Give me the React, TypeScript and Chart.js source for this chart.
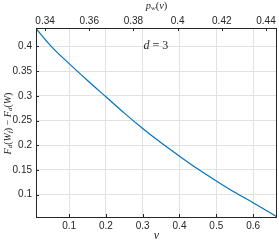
import React, { useEffect, useRef } from "react";
import { Chart, registerables } from "chart.js";

Chart.register(...registerables);

const vValues = [0.01, 0.05, 0.1, 0.15, 0.2, 0.25, 0.3, 0.35, 0.4, 0.45, 0.5, 0.55, 0.6, 0.65, 0.665];
const gapValues = [0.436, 0.401, 0.365, 0.331, 0.298, 0.265, 0.234, 0.205, 0.178, 0.152, 0.128, 0.105, 0.084, 0.062, 0.055];
const xTicks = [0.1, 0.2, 0.3, 0.4, 0.5, 0.6];
const yTicks = [0.1, 0.15, 0.2, 0.25, 0.3, 0.35, 0.4];
const topTicks = [0.34, 0.36, 0.38, 0.4, 0.42, 0.44];
const annotationText = { v: 0.336, y: 0.4 };

const AXIS = "#262626";
const GRID = "#e2e2e2";
const SERIF = '"Liberation Serif", "Times New Roman", serif';

type Run = { t: string; italic?: boolean; sub?: boolean };

function drawRuns(ctx: CanvasRenderingContext2D, runs: Run[], cx: number, cy: number, size: number) {
  const fontFor = (r: Run) => `${r.italic ? "italic " : ""}${r.sub ? Math.round(size * 0.7) : size}px ${SERIF}`;
  let total = 0;
  const widths = runs.map((r) => {
    ctx.font = fontFor(r);
    const w = ctx.measureText(r.t).width;
    total += w;
    return w;
  });
  let x = cx - total / 2;
  ctx.textBaseline = "middle";
  ctx.textAlign = "left";
  runs.forEach((r, i) => {
    ctx.font = fontFor(r);
    ctx.fillText(r.t, x, cy + (r.sub ? size * 0.25 : 0));
    x += widths[i];
  });
}

const fmt = (v: number) => String(parseFloat(Number(v).toFixed(3)));

export default function App() {
  const ref = useRef<HTMLCanvasElement | null>(null);
  useEffect(() => {
    if (!ref.current) return;
    const decor = {
      id: "decor",
      afterDraw(chart: any) {
        const ctx = chart.ctx as CanvasRenderingContext2D;
        const a = chart.chartArea;
        const xs = chart.scales.x;
        const ys = chart.scales.y;
        const x2 = chart.scales.x2;
        ctx.save();
        ctx.strokeStyle = AXIS;
        ctx.lineWidth = 1;
        ctx.beginPath();
        const tl = 3;
        xTicks.forEach((t) => {
          const p = Math.round(xs.getPixelForValue(t)) + 0.5;
          ctx.moveTo(p, a.bottom);
          ctx.lineTo(p, a.bottom - tl);
        });
        topTicks.forEach((t) => {
          const p = Math.round(x2.getPixelForValue(t)) + 0.5;
          ctx.moveTo(p, a.top);
          ctx.lineTo(p, a.top + tl);
        });
        yTicks.forEach((t) => {
          const p = Math.round(ys.getPixelForValue(t)) + 0.5;
          ctx.moveTo(a.left, p);
          ctx.lineTo(a.left + tl, p);
        });
        ctx.stroke();
        ctx.strokeRect(Math.round(a.left) + 0.5, Math.round(a.top) + 0.5, Math.round(a.right - a.left) - 1, Math.round(a.bottom - a.top));
        ctx.fillStyle = AXIS;
        // y title
        ctx.save();
        ctx.translate(8, (a.top + a.bottom) / 2 + 1);
        ctx.rotate(-Math.PI / 2);
        drawRuns(
          ctx,
          [
            { t: "F", italic: true },
            { t: "d", italic: true, sub: true },
            { t: "(" },
            { t: "W", italic: true },
            { t: "f", italic: true, sub: true },
            { t: ")" },
            { t: " \u2212 " },
            { t: "F", italic: true },
            { t: "d", italic: true, sub: true },
            { t: "(" },
            { t: "W", italic: true },
            { t: ")" },
          ],
          0,
          0,
          10
        );
        ctx.restore();
        // top title
        drawRuns(
          ctx,
          [
            { t: "p", italic: true },
            { t: "w", italic: true, sub: true },
            { t: "(" },
            { t: "v", italic: true },
            { t: ")" },
          ],
          (a.left + a.right) / 2,
          6,
          10.5
        );
        // bottom title
        drawRuns(ctx, [{ t: "v", italic: true }], (a.left + a.right) / 2, 236, 12);
        // annotation
        drawRuns(
          ctx,
          [{ t: "d", italic: true }, { t: " = 3" }],
          xs.getPixelForValue(annotationText.v),
          ys.getPixelForValue(annotationText.y),
          12
        );
        ctx.restore();
      },
    };
    const tickFont = { family: '"Liberation Sans", Arial, sans-serif', size: 10 };
    const chart = new Chart(ref.current, {
      type: "scatter",
      data: {
        datasets: [
          {
            data: vValues.map((v, i) => ({ x: v, y: gapValues[i] })),
            showLine: true,
            borderColor: "#0072BD",
            borderWidth: 1.2,
            pointRadius: 0,
            cubicInterpolationMode: "monotone",
            xAxisID: "x",
            yAxisID: "y",
          },
        ],
      },
      options: {
        animation: false,
        responsive: false,
        devicePixelRatio: 1,
        layout: { padding: { left: 0, right: 2, top: 0, bottom: 0 } },
        plugins: { legend: { display: false }, tooltip: { enabled: false } },
        scales: {
          x: {
            type: "linear",
            position: "bottom",
            min: 0.01,
            max: 0.665,
            afterBuildTicks: (s: any) => {
              s.ticks = xTicks.map((v) => ({ value: v }));
            },
            afterFit: (s: any) => {
              s.height = 26;
            },
            ticks: { callback: (v: any) => fmt(v), color: AXIS, font: tickFont, padding: 3, maxRotation: 0, autoSkip: false },
            grid: { color: GRID, drawTicks: false },
            border: { display: false },
          },
          x2: {
            type: "linear",
            position: "top",
            min: 0.3359,
            max: 0.445,
            afterBuildTicks: (s: any) => {
              s.ticks = topTicks.map((v) => ({ value: v }));
            },
            afterFit: (s: any) => {
              s.height = 28;
            },
            ticks: { callback: (v: any) => fmt(v), color: AXIS, font: tickFont, padding: 1, maxRotation: 0, autoSkip: false },
            grid: { drawOnChartArea: false, drawTicks: false },
            border: { display: false },
          },
          y: {
            type: "linear",
            position: "left",
            min: 0.055,
            max: 0.437,
            afterBuildTicks: (s: any) => {
              s.ticks = yTicks.map((v) => ({ value: v }));
            },
            afterFit: (s: any) => {
              s.width = 36;
            },
            ticks: { callback: (v: any) => fmt(v), color: AXIS, font: tickFont, padding: 4, autoSkip: false },
            grid: { color: GRID, drawTicks: false },
            border: { display: false },
          },
        },
      },
      plugins: [decor],
    } as any);
    return () => chart.destroy();
  }, []);
  return (
    <div style={{ position: "fixed", left: 0, top: 0, width: 279, height: 243, background: "#fff" }}>
      <canvas ref={ref} width={279} height={243} style={{ display: "block" }} />
    </div>
  );
}
